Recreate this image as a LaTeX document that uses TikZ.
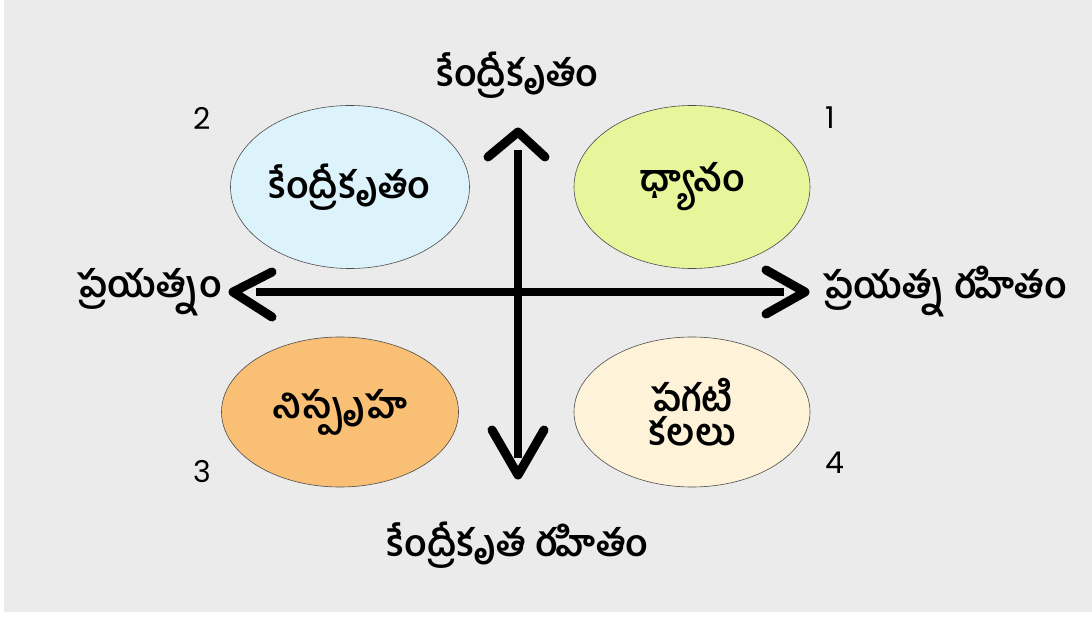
\documentclass[tikz,border=0pt]{standalone}
\usepackage{fontspec}
\setmainfont{Poppins}
\newfontfamily\tel[Script=Telugu]{Hind Guntur}
\definecolor{bg}{HTML}{EBEBEB}
\definecolor{cblue}{HTML}{DDF3FB}
\definecolor{cgreen}{HTML}{E7F59B}
\definecolor{corange}{HTML}{F8BF75}
\definecolor{ccream}{HTML}{FEF3D8}
\begin{document}
\begin{tikzpicture}[x=1pt,y=-1pt,
  blob/.style={ellipse,draw=black!70,line width=0.6pt,minimum width=238pt,minimum height=160pt,inner sep=0pt},
  lbl/.style={font=\tel\bfseries\fontsize{37}{42}\selectfont,inner sep=0pt,align=center},
  num/.style={font=\fontsize{30}{33}\selectfont,inner sep=0pt},
  shaft/.style={line width=8pt},
  chev/.style={line width=9pt,line cap=round,line join=round}]
\usetikzlibrary{shapes.geometric}
\fill[white] (0,0) rectangle (1092,617);
\fill[bg] (4,0) rectangle (1092,612);
\useasboundingbox (0,0) rectangle (1092,617);
% ellipses
\node[blob,fill=cblue,minimum width=239pt,minimum height=163pt] (q2) at (350,187) {};
\node[blob,fill=cgreen,minimum width=236pt,minimum height=163pt] (q1) at (692,187) {};
\node[blob,fill=corange,minimum width=237pt,minimum height=150pt] (q3) at (340,412) {};
\node[blob,fill=ccream,minimum width=236pt,minimum height=150pt] (q4) at (692,412) {};
\node[lbl] at (q2) {కేంద్రీకృతం};
\node[lbl] at (q1) {ధ్యానం};
\node[lbl] at (q3) {నిస్పృహ};
\node[lbl,align=center] at (q4) {పగటి\\[-8pt]కలలు};
% axes
\coordinate (c) at (518,292);
\coordinate (vt) at (518,150);
\coordinate (vb) at (518,458);
\coordinate (hl) at (256,292);
\coordinate (hr) at (784,292);
\draw[shaft] (vt) -- (vb);
\draw[shaft] (hl) -- (hr);
\draw[chev] (488,157) -- (518,132) -- (545,157);
\draw[chev] (492,430) -- (518,475) -- (544,430);
\draw[chev] (272,272) -- (233,292) -- (272,317);
\draw[chev] (766,270) -- (805,292) -- (766,314);
% axis labels
\node[lbl] (top) at (518,75) {కేంద్రీకృతం};
\node[lbl] (bot) at (518,545) {కేంద్రీకృత రహితం};
\node[lbl,anchor=east] (left) at (222,292) {ప్రయత్నం};
\node[lbl,anchor=west] (right) at (823,292) {ప్రయత్న రహితం};
% numbers
\node[num] (n2) at (202,118) {2};
\node[num] (n1) at (830,118) {1};
\node[num] (n3) at (202,472) {3};
\node[num] (n4) at (835,463) {4};
\end{tikzpicture}
\end{document}
